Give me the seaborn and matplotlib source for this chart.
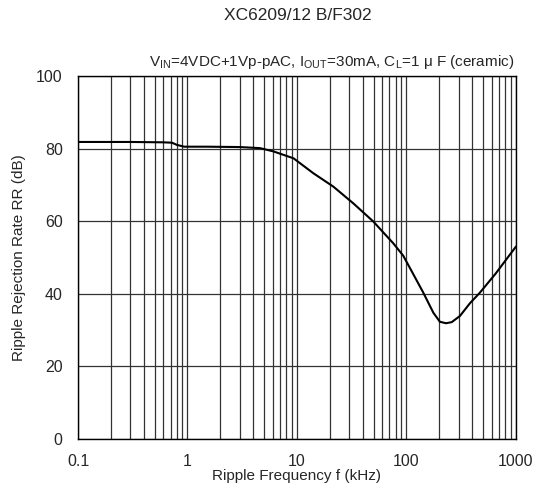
import matplotlib
matplotlib.use("Agg")
import matplotlib.pyplot as plt
import matplotlib.ticker as mticker
import seaborn as sns
import pandas as pd

# datos (frecuencia kHz, rechazo dB)
freq_khz = [0.1, 0.3, 0.6, 0.72, 0.8, 0.93, 1.5, 3.0, 4.6, 6.1, 9.3, 14.1, 21.5, 32.7,
            49.8, 75.8, 93.4, 115, 142, 176, 202, 230, 259, 308, 380, 468, 650, 1000]
rr_db = [81.8, 81.8, 81.7, 81.6, 81.0, 80.5, 80.5, 80.4, 80.1, 79.2, 77.3, 73.2, 69.5, 64.9,
         59.9, 53.9, 50.5, 45.5, 40.4, 34.8, 32.3, 31.9, 32.2, 33.9, 37.4, 40.3, 45.5, 53.0]

y_ticks = [0, 20, 40, 60, 80, 100]
x_ticks = [0.1, 1, 10, 100, 1000]
x_tick_labels = ["0.1", "1", "10", "100", "1000"]

titulo = "XC6209/12 B/F302"
condiciones = (r"V$_{\mathrm{IN}}$=4VDC+1Vp-pAC, I$_{\mathrm{OUT}}$=30mA, "
               r"C$_{\mathrm{L}}$=1 μ F (ceramic)")

sns.set_style("white")
plt.rcParams["font.family"] = ["Liberation Sans", "DejaVu Sans"]
plt.rcParams["mathtext.fontset"] = "custom"
plt.rcParams["mathtext.rm"] = "Liberation Sans"

df = pd.DataFrame({"f": freq_khz, "rr": rr_db})

fig = plt.figure(figsize=(5.38, 4.99), dpi=100)
ax = fig.add_axes([0.145, 0.120, 0.814, 0.728])

ax.set_xscale("log")
ax.set_xlim(0.1, 1000)
ax.set_ylim(0, 100)

ax.xaxis.set_major_locator(mticker.FixedLocator(x_ticks))
ax.xaxis.set_minor_locator(mticker.LogLocator(base=10, subs=range(2, 10), numticks=20))
ax.xaxis.set_minor_formatter(mticker.NullFormatter())
ax.set_xticks(x_ticks)
ax.set_xticklabels(x_tick_labels)
ax.set_yticks(y_ticks)

ax.grid(True, which="both", axis="x", color="#333333", linewidth=0.9)
ax.grid(True, which="major", axis="y", color="#333333", linewidth=0.9)
ax.tick_params(which="both", length=0, labelsize=11.5)
ax.tick_params(axis="x", pad=11)
ax.tick_params(axis="y", pad=11)

sns.lineplot(data=df, x="f", y="rr", ax=ax, color="black", linewidth=1.5)

for s in ax.spines.values():
    s.set_color("black")
    s.set_linewidth(1.0)

ax.set_xlabel("Ripple Frequency f (kHz)", fontsize=11, labelpad=0)
ax.set_ylabel("Ripple Rejection Rate RR (dB)", fontsize=11, labelpad=7)

fig.text(0.553, 0.968, titulo, ha="center", va="center", fontsize=12.5)
ax.text(0.997, 1.012, condiciones, transform=ax.transAxes, ha="right", va="bottom",
        fontsize=11)

fig.savefig("out.png", dpi=100)
